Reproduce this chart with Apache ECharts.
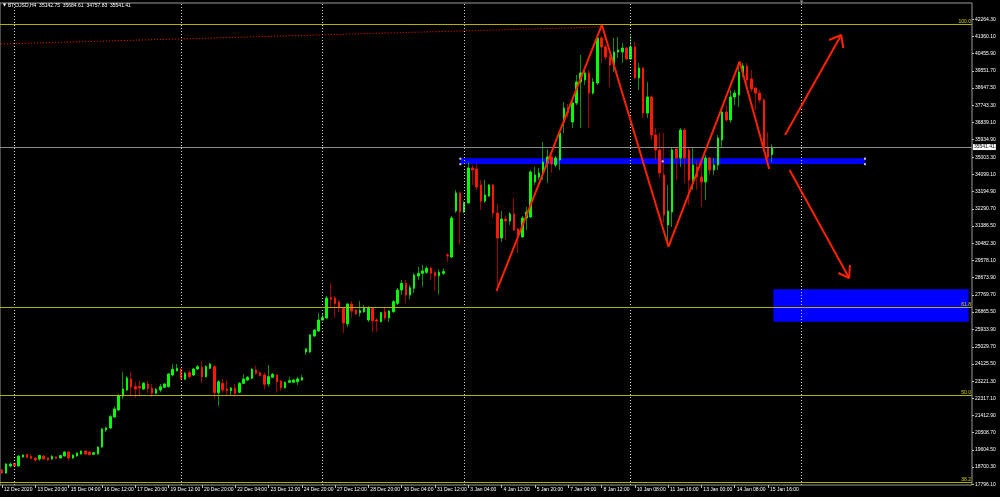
<!DOCTYPE html>
<html><head><meta charset="utf-8">
<script src="https://cdn.jsdelivr.net/npm/echarts@6/dist/echarts.min.js"></script>
<style>html,body{margin:0;padding:0;background:#000}#c{width:1000px;height:497px}</style>
</head><body><div id="c"></div><script>
// ---- data (H4 bars, index 0 = 12 Dec 2020) ----
const opens = [
18549,18391,18759,18890,18759,19233,19364,19259,19180,19127,
19285,19180,19127,19233,19180,19285,19496,19180,19285,19390,
19548,19496,19375,19390,19759,20653,20759,21337,21706,22442,
22758,23337,22931,22942,22811,23074,22848,22585,22758,22900,
22931,23548,23774,23848,23322,23669,23548,23864,23952,23459,
23900,23985,22616,23111,22811,22722,22848,22637,23111,23285,
23374,23811,23669,23548,23074,23427,23548,23232,22879,23164,
23164,23195,23285,24758,24758,25600,25863,26442,26548,27615,
27599,27389,27047,26231,27283,26968,26826,26879,26442,27057,
26442,26353,26879,26545,26879,27320,28020,28372,27757,28110,
28757,28899,28952,29162,28931,28773,28899,29863,29757,32177,
33124,32124,32598,34440,34387,33546,32703,32967,33546,32072,
30756,31756,31651,32019,31230,30809,31809,31862,33704,33966,
34177,34703,35019,34598,34861,36860,37597,36860,37860,38965,
39070,39439,38386,38913,41280,40807,40281,39860,40544,40544,
40754,40175,40807,39176,39702,37334,38176,36176,35387,34072,
31441,32124,35439,34966,36439,35387,33809,34493,33966,33704,
34966,34335,34598,35913,37387,36966,38176,38281,39439,39807,
39123,38649,38386,38018,35545,35142.75];
const highs = [
18601,18917,18943,18917,19312,19364,19390,19390,19206,19338,
19312,19206,19338,19259,19338,19522,19522,19364,19469,19575,
19575,19522,19469,19785,20759,20838,21443,21890,22548,23706,
23495,23706,23179,23248,23179,23248,23074,22864,23074,23127,
23653,24127,24127,23916,23706,23811,23916,24074,24285,24074,
24179,24074,23285,23337,23248,22916,23074,23179,23585,23495,
23916,24037,23706,23690,24074,23653,23600,23285,23206,23459,
23337,23459,23548,24969,25705,25968,26811,26811,27704,28389,
27704,27494,27126,27336,27441,27022,27441,27231,27178,27126,
26548,26863,27074,26968,27494,28126,28546,28546,28283,28915,
29246,29336,29283,29246,29020,29109,29162,29968,31915,33282,
33229,32703,34756,34598,34650,33809,33809,33598,33598,32545,
32177,31915,32124,32861,31283,31915,32388,34335,34493,34440,
35809,35439,35124,35071,36439,37913,37808,38018,39334,40386,
39702,39597,39176,41386,41386,40912,40386,41280,41333,41017,
40807,41438,41070,39965,39755,38965,38281,36545,36282,36282,
33546,35545,35545,36545,36545,35545,35492,34861,34703,35124,
35019,34966,36176,37597,37755,38544,38544,40018,39965,39965,
39597,38702,38544,38123,36334,35684.61];
const lows = [
18338,18338,18680,18733,18733,19206,19180,19127,18969,19022,
19101,19048,19075,19127,19154,19259,19048,19127,19259,19364,
19364,19338,19364,19364,19706,20548,20706,21285,21653,22285,
22706,22442,22337,22495,22758,22616,22390,22548,22637,22864,
22890,23459,23721,23285,23285,23374,23495,23811,23111,23416,
23864,22322,21932,22585,22495,22495,22406,22600,23074,23232,
23337,23548,23469,22795,22931,23390,22616,22722,22837,23127,
23127,23021,23232,24600,24706,25547,25810,26389,26495,27074,
26548,26863,25758,26073,26548,26705,26616,26811,26337,25810,
25826,26310,26405,26337,26811,27231,27757,27320,27531,27862,
28546,28194,28862,28546,27983,27783,28810,29494,29705,32072,
30388,32072,32545,33546,33282,32230,32598,32914,31809,27930,
30546,30651,31441,31125,29968,30809,31178,31809,33546,33809,
33809,33651,34177,34493,34335,36282,37071,36545,37755,36545,
38807,36545,38281,38807,39965,40123,38702,39491,40228,39965,
40123,40123,39123,38544,37071,37071,35913,34861,33913,31546,
30335,31335,33809,34493,33651,32493,33282,33282,32388,32756,
34072,34072,34335,35545,36860,36808,37755,37650,39228,38913,
38439,37492,37860,35387,34703,34757.83];
const closes = [
18391,18864,18864,18759,19285,19338,19206,19154,19075,19312,
19127,19075,19259,19164,19312,19496,19180,19338,19443,19548,
19390,19354,19459,19759,20706,20759,21354,21758,22442,22811,
23390,22916,22811,22864,23111,22848,22585,22795,22931,23074,
23600,23848,23900,23374,23637,23459,23864,23985,23459,23985,
24127,22616,23195,22758,22722,22864,22585,23111,23337,23427,
23848,23637,23511,23058,23459,23585,23195,22879,23164,23248,
23285,23337,23406,24916,25652,25916,26442,26564,27599,27531,
27310,27074,26284,27283,26916,26758,26931,27089,27057,26405,
26389,26826,26545,26916,27405,28020,28372,27757,28142,28810,
28899,29020,29162,28899,28757,28952,28989,29810,31809,33124,
32124,32598,34440,34335,33440,32703,33019,33546,32072,30756,
31756,31651,32019,31178,30809,31809,32124,34229,34072,34177,
34756,35019,34650,34966,36282,37597,37334,37860,38965,39439,
39439,38386,38965,41280,40807,40281,39860,40544,40649,40754,
40175,40807,39176,39702,37334,38176,36176,35387,34177,31967,
32177,35387,34966,36439,34966,33809,34598,33966,33704,34966,
34335,34598,36018,37387,36966,38176,38386,39491,39807,39070,
38597,38386,38018,35492,35019,35541.41];

// time axis labels (every 8 bars)
const timeLabels = ["12 Dec 2020","13 Dec 20:00","15 Dec 04:00","16 Dec 12:00","17 Dec 20:00","19 Dec 12:00","20 Dec 20:00","22 Dec 04:00","23 Dec 12:00","24 Dec 20:00","27 Dec 12:00","28 Dec 20:00","30 Dec 04:00","31 Dec 12:00","3 Jan 04:00","4 Jan 12:00","5 Jan 20:00","7 Jan 04:00","8 Jan 12:00","10 Jan 08:00","11 Jan 16:00","13 Jan 00:00","14 Jan 08:00","15 Jan 16:00"];
const labelBars = timeLabels.map((_, i) => i * 8);
const weekStartBars = [3, 43, 77, 111, 151, 192];

// price axis labels
const priceTicks = [42264.30,41360.10,40455.90,39551.70,38647.50,37743.30,36839.10,35934.90,35003.30,34099.10,33194.90,32290.70,31386.50,30482.30,29578.10,28673.90,27769.70,26865.50,25933.90,25029.70,24125.50,23221.30,22317.10,21412.90,20508.70,19604.50,18700.30,17796.10];

// Fibonacci levels
const fibNames = ["100.0","61.8","50.0","38.2"];
const fibPrices = [42017, 27110, 22495, 17901];
const lastPrice = 35541.41;
const titleText = 'BTCUSD,H4  35142.75  35684.61  34757.83  35541.41';

// drawn objects (bar index, price)
const bandRect = [[110.1, 34950], [207.3, 34650]];
const zoneRect = [[185.3, 28057], [232.2, 26352]];
const bandHandles = [[110.1, 34930], [110.1, 34640], [158.7, 34790], [207.3, 34930], [207.3, 34640]];
const zigzag = [[118.8, 27968], [144.1, 41965], [160.1, 30299], [177.2, 40033], [184.3, 34387]];
const arrowUp = [[188.1, 36176], [201.6, 41438]];
const arrowUpHead = [[198.7, 41175], [201.6, 41438], [202.1, 40754]];
const arrowDown = [[189.2, 34335], [203.5, 28652]];
const arrowDownHead = [[200.9, 28915], [203.5, 28652], [203.7, 29336]];
const dottedTrend = [[-0.3, 40965], [143.8, 41859]];

const FONT = 'Liberation Sans';
// full candles (drawn thin, dark: wicks) and bodies only (bright)
const wickData = opens.map((o, i) => [i, o, closes[i], lows[i], highs[i]]);
const bodyData = opens.map((o, i) => [i, o, closes[i], Math.min(o, closes[i]), Math.max(o, closes[i])]);

function drawLine(data, width, type) {
  return { type: 'line', data: data, symbol: 'none', silent: true, z: 6,
    lineStyle: { color: '#ff2200', width: width, type: type || 'solid' } };
}

const option = {
  backgroundColor: '#000',
  animation: false,
  grid: { left: -1, right: 28, top: 3, bottom: 12, show: true, borderColor: '#9a9a9a', borderWidth: 1 },
  xAxis: {
    type: 'value', min: -0.5, max: 233.02,
    axisLine: { show: false, onZero: false },
    splitLine: { show: false },
    axisTick: { show: true, customValues: labelBars, length: 3, lineStyle: { color: '#bdbdbd' } },
    axisLabel: { customValues: labelBars, formatter: v => timeLabels[labelBars.indexOf(Math.round(v))] || '',
      color: '#ffffff', fontSize: 5, fontFamily: FONT, align: 'left', margin: 2, padding: [0, 0, 0, 2] }
  },
  yAxis: {
    type: 'value', position: 'right', min: 17759, max: 43122,
    axisLine: { show: false, onZero: false },
    splitLine: { show: false },
    axisTick: { show: true, customValues: priceTicks, length: 2, lineStyle: { color: '#bdbdbd' } },
    axisLabel: { customValues: priceTicks, formatter: v => v.toFixed(2), color: '#ffffff', fontSize: 5,
      fontFamily: FONT, margin: 3 }
  },
  graphic: [
    { type: 'text', left: 3, top: 3, silent: true,
      style: { text: '▼', fill: '#ffffff', font: '4px "DejaVu Sans"' } },
    { type: 'text', left: 8, top: 3, silent: true,
      style: { text: titleText, fill: '#ffffff', font: '5px "Liberation Sans"' } },
    { type: 'text', left: 800, top: 0, silent: true,
      style: { text: '▼', fill: '#9a9a9a', font: '4px "DejaVu Sans"' } }
  ],
  series: [
    { type: 'line', data: [], silent: true, z: 1,
      markArea: { silent: true, itemStyle: { color: '#0000ff', opacity: 1 },
        data: [
          [{ xAxis: zoneRect[0][0], yAxis: zoneRect[0][1] }, { xAxis: zoneRect[1][0], yAxis: zoneRect[1][1] }],
          [{ xAxis: bandRect[0][0], yAxis: bandRect[0][1] }, { xAxis: bandRect[1][0], yAxis: bandRect[1][1] }]
        ] } },
    { type: 'line', data: [], silent: true, z: 2,
      markLine: { silent: true, symbol: 'none', animation: false,
        data: [
          ...weekStartBars.map(b => ({ xAxis: b, lineStyle: { color: '#cfcfcf', width: 1, type: [1, 2] }, label: { show: false } })),
          ...fibPrices.map((p, i) => ({ yAxis: p, lineStyle: { color: '#b4b000', width: 1, type: 'solid' },
            label: { show: true, position: 'insideEndTop', formatter: fibNames[i], color: '#d8d400', fontSize: 5, fontFamily: FONT, distance: [1, 0] } })),
          { yAxis: lastPrice, lineStyle: { color: '#8c8c8c', width: 1, type: 'solid' },
            label: { show: true, position: 'end', formatter: lastPrice.toFixed(2), color: '#000', backgroundColor: '#ffffff',
              fontSize: 5, fontFamily: FONT, padding: [1, 1, 0, 1], distance: 1 } }
        ] } },
    { type: 'candlestick', data: wickData, encode: { x: 0, y: [1, 2, 3, 4] }, barWidth: 1, z: 3, silent: true,
      itemStyle: { color: '#118f11', color0: '#a00000', borderColor: '#118f11', borderColor0: '#a00000', borderWidth: 1 } },
    { type: 'candlestick', data: bodyData, encode: { x: 0, y: [1, 2, 3, 4] }, barWidth: 2, z: 4, silent: true,
      itemStyle: { color: '#00ff00', color0: '#ff1800', borderColor: '#00ff00', borderColor0: '#ff1800', borderWidth: 1 } },
    drawLine(dottedTrend, 1, [1, 2]),
    drawLine(zigzag, 2),
    drawLine(arrowUp, 2),
    drawLine(arrowUpHead, 2),
    drawLine(arrowDown, 2),
    drawLine(arrowDownHead, 2),
    { type: 'scatter', data: bandHandles, symbol: 'rect', symbolSize: 2, silent: true, z: 7,
      itemStyle: { color: '#ffffff' } }
  ]
};

const chart = echarts.init(document.getElementById('c'), null, { renderer: 'canvas' });
chart.setOption(option);
</script></body></html>
